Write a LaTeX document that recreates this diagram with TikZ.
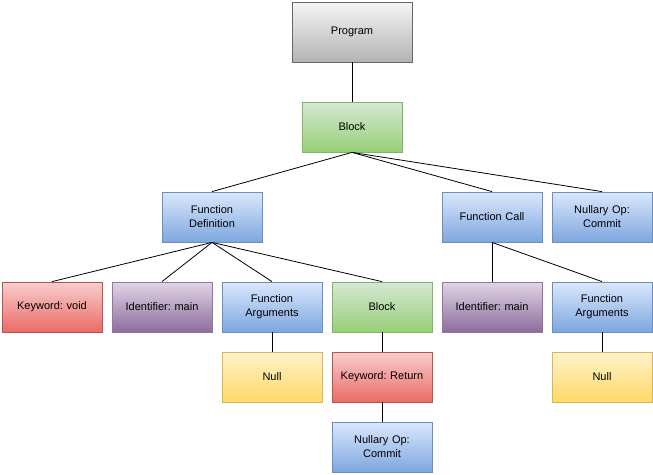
\documentclass[tikz,border=0pt]{standalone}
\usepackage{fontspec}
\setmainfont{Liberation Sans}
\frenchspacing
\definecolor{grayT}{HTML}{F5F5F5}\definecolor{grayB}{HTML}{B3B3B3}\definecolor{grayD}{HTML}{666666}
\definecolor{greenT}{HTML}{D5E8D4}\definecolor{greenB}{HTML}{97D077}\definecolor{greenD}{HTML}{82B366}
\definecolor{blueT}{HTML}{DAE8FC}\definecolor{blueB}{HTML}{7EA6E0}\definecolor{blueD}{HTML}{6C8EBF}
\definecolor{redT}{HTML}{F8CECC}\definecolor{redB}{HTML}{EA6B66}\definecolor{redD}{HTML}{B85450}
\definecolor{purT}{HTML}{E1D5E7}\definecolor{purB}{HTML}{8C6C9C}\definecolor{purD}{HTML}{9673A6}
\definecolor{yelT}{HTML}{FFF2CC}\definecolor{yelB}{HTML}{FFD966}\definecolor{yelD}{HTML}{D6B656}
\tikzset{
  box/.style={rectangle, minimum width=100pt, minimum height=50pt, inner sep=0pt, line width=0.8pt,
    align=center, font=\fontsize{11}{14}\selectfont\frenchspacing, text width=96pt},
  graybox/.style={box, draw=grayD, top color=grayT, bottom color=grayB},
  greenbox/.style={box, draw=greenD, top color=greenT, bottom color=greenB},
  bluebox/.style={box, draw=blueD, top color=blueT, bottom color=blueB},
  redbox/.style={box, draw=redD, top color=redT, bottom color=redB},
  purbox/.style={box, draw=purD, top color=purT, bottom color=purB},
  yelbox/.style={box, draw=yelD, top color=yelT, bottom color=yelB},
  edge/.style={draw=black, line width=0.8pt}
}
\begin{document}
\begin{tikzpicture}[x=1pt,y=-1pt]
\useasboundingbox (0,0) rectangle (653,474);
\node[graybox, minimum width=120pt, minimum height=60pt] (prog) at (352,32) {Program};
\node[greenbox] (blk) at (352,127) {Block};
\node[bluebox] (fdef) at (212,217) {Function\\Definition};
\node[bluebox] (fcall) at (492,217) {Function Call};
\node[bluebox] (null1) at (602,217) {Nullary Op:\\Commit};
\node[redbox] (kvoid) at (52,307) {Keyword: void};
\node[purbox] (id1) at (162,307) {Identifier: main};
\node[bluebox] (fargs1) at (272,307) {Function\\Arguments};
\node[greenbox] (blk2) at (382,307) {Block};
\node[purbox] (id2) at (492,307) {Identifier: main};
\node[bluebox] (fargs2) at (602,307) {Function\\Arguments};
\node[yelbox] (nul1) at (272,377) {Null};
\node[redbox] (kret) at (382,377) {Keyword: Return};
\node[yelbox] (nul2) at (602,377) {Null};
\node[bluebox] (null2) at (382,447) {Nullary Op:\\Commit};
\draw[edge] (prog.south) -- (blk.north);
\draw[edge] (blk.south) -- (fdef.north);
\draw[edge] (blk.south) -- (fcall.north);
\draw[edge] (blk.south) -- (null1.north);
\draw[edge] (fdef.south) -- (kvoid.north);
\draw[edge] (fdef.south) -- (id1.north);
\draw[edge] (fdef.south) -- (fargs1.north);
\draw[edge] (fdef.south) -- (blk2.north);
\draw[edge] (fcall.south) -- (id2.north);
\draw[edge] (fcall.south) -- (fargs2.north);
\draw[edge] (fargs1.south) -- (nul1.north);
\draw[edge] (blk2.south) -- (kret.north);
\draw[edge] (kret.south) -- (null2.north);
\draw[edge] (fargs2.south) -- (nul2.north);
\end{tikzpicture}
\end{document}
